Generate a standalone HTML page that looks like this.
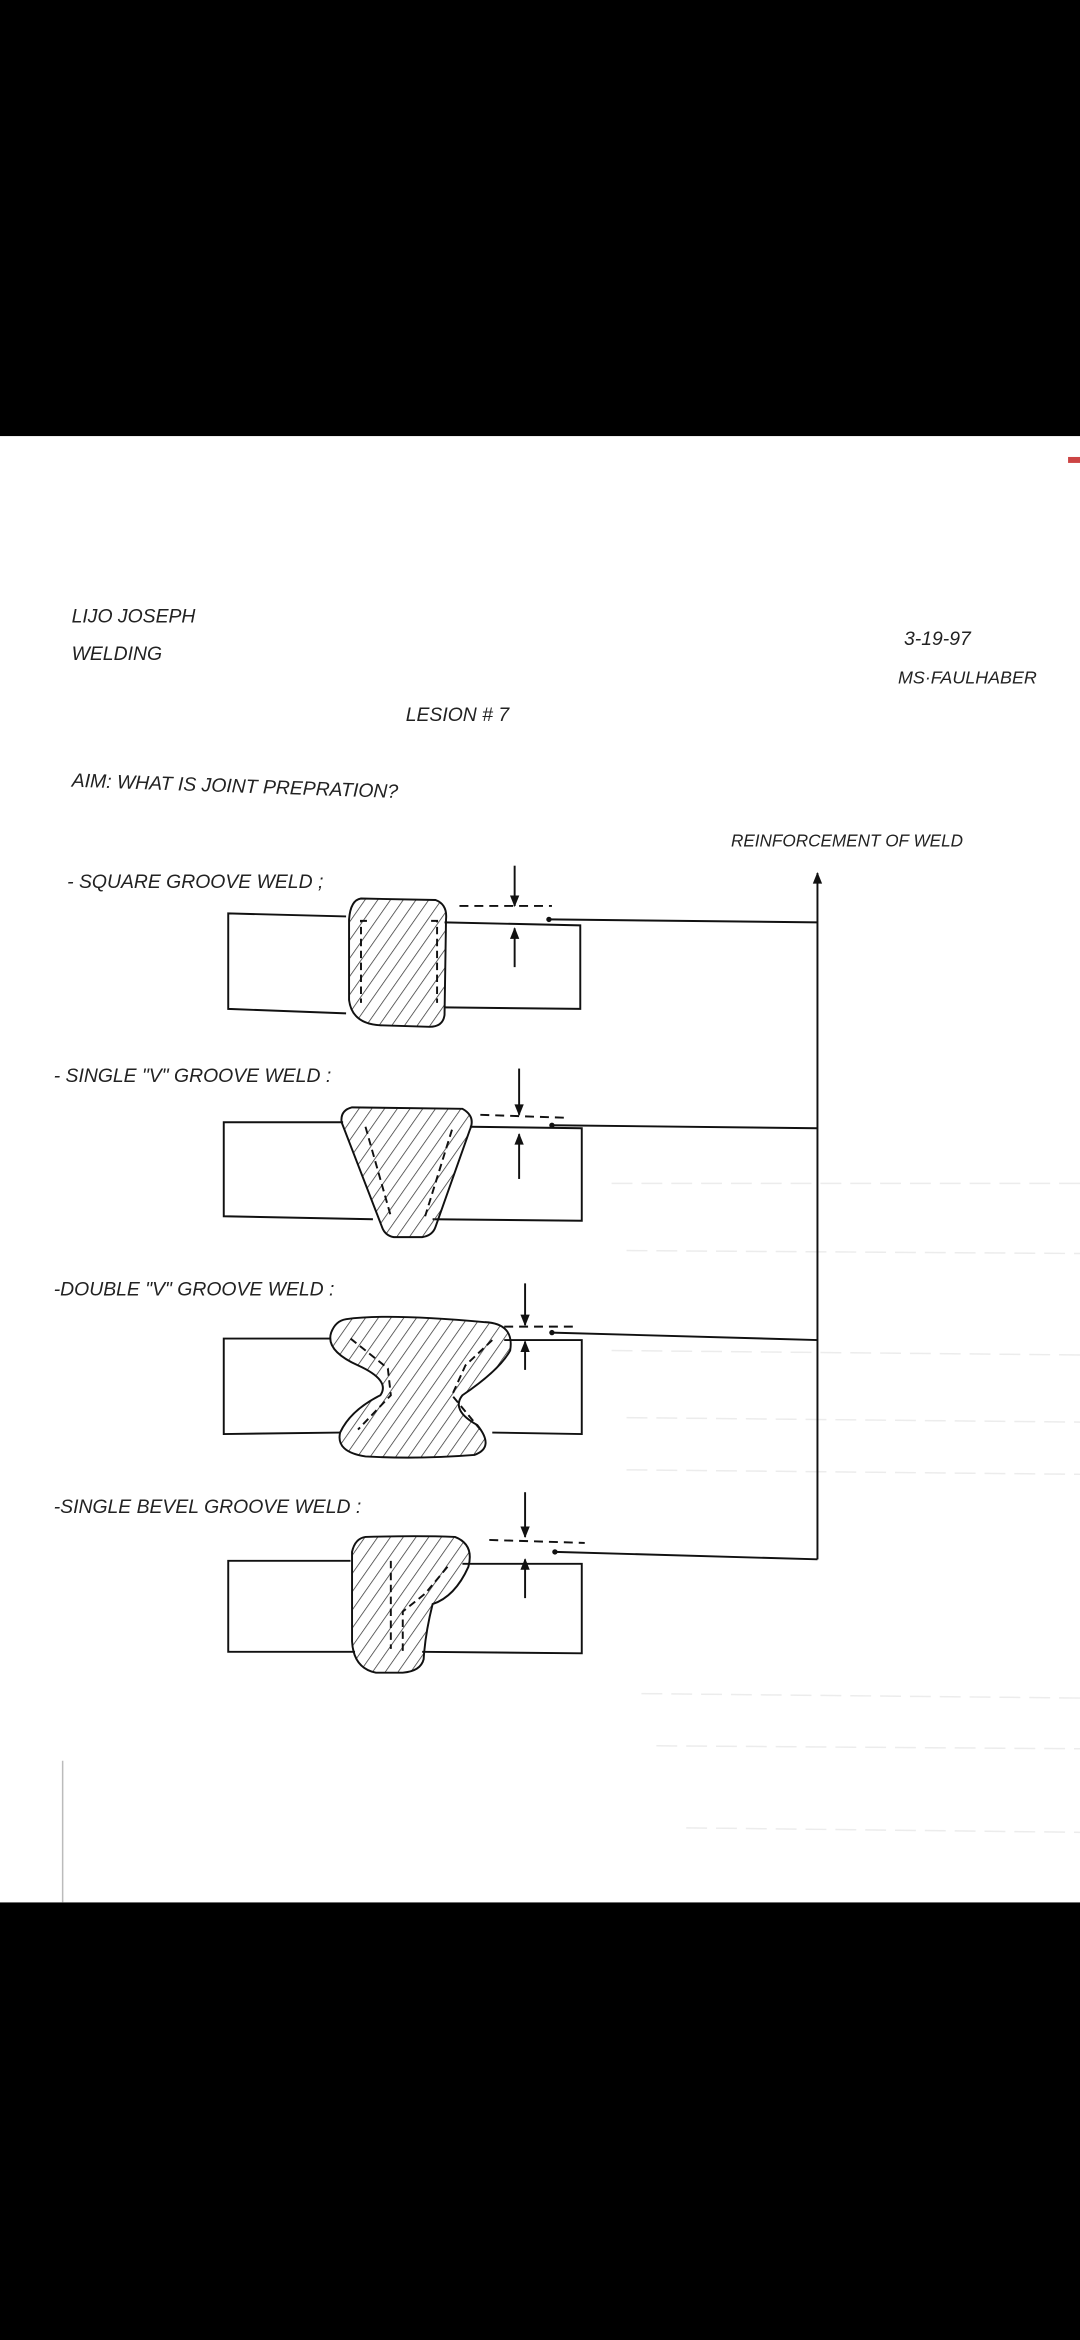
<!DOCTYPE html>
<html><head><meta charset="utf-8"><style>
html,body{margin:0;padding:0;background:#000;}
svg{display:block;}
text{font-family:"Liberation Sans",sans-serif;font-style:italic;fill:#222;}
</style></head><body>
<svg width="1080" height="2340" viewBox="0 0 724 1568" xmlns="http://www.w3.org/2000/svg">
<defs>
<pattern id="h" width="7" height="7" patternUnits="userSpaceOnUse" patternTransform="rotate(35)">
<line x1="0" y1="0" x2="0" y2="7" stroke="#333" stroke-width="1"/>
</pattern>
<marker id="a" viewBox="0 0 10 10" refX="9" refY="5" markerWidth="7" markerHeight="6" orient="auto"><path d="M0,1 L10,5 L0,9 z" fill="#111"/></marker>
</defs>
<rect x="0" y="0" width="724" height="1568" fill="#000"/>
<rect x="0" y="292" width="724" height="983" fill="#fff"/>
<rect x="716" y="306" width="8" height="4" fill="#c44"/>
<line x1="42" y1="1180" x2="42" y2="1275" stroke="#bbb" stroke-width="1"/>
<g stroke="#ececec" stroke-width="1" stroke-dasharray="14 6">
<line x1="410" y1="793" x2="724" y2="793"/><line x1="420" y1="838" x2="724" y2="840"/>
<line x1="410" y1="905" x2="724" y2="908"/><line x1="420" y1="950" x2="724" y2="953"/>
<line x1="420" y1="985" x2="724" y2="988"/><line x1="430" y1="1135" x2="724" y2="1138"/>
<line x1="440" y1="1170" x2="724" y2="1172"/><line x1="460" y1="1225" x2="724" y2="1228"/>
</g>
<g font-size="13">
<text x="48" y="417">LIJO JOSEPH</text>
<text x="48" y="442">WELDING</text>
<text x="606" y="432">3-19-97</text>
<text x="602" y="458" font-size="12">MS·FAULHABER</text>
<text x="272" y="483">LESION # 7</text>
<text x="48" y="527" transform="rotate(2 48 527)">AIM: WHAT IS JOINT PREPRATION?</text>
<text x="490" y="567" font-size="11.5">REINFORCEMENT OF WELD</text>
<text x="45" y="595">- SQUARE GROOVE WELD ;</text>
<text x="36" y="725">- SINGLE "V" GROOVE WELD :</text>
<text x="36" y="868">-DOUBLE "V" GROOVE WELD :</text>
<text x="36" y="1014">-SINGLE BEVEL GROOVE WELD :</text>
</g>
<g fill="none" stroke="#111" stroke-width="1.3">
<line x1="548" y1="1045" x2="548" y2="585" marker-end="url(#a)"/>
<!-- 1 -->
<path d="M232,614 L153,612 L153,676 L232,679 M298,618 L389,620 L389,676 L298,675"/>
<path d="M242,602 L292,603 Q300,606 299,616 L298,680 Q297,688 288,688 L255,687 Q236,686 234,670 L234,616 Q235,603 242,602 Z" fill="url(#h)"/>
<path d="M246,617 L242,617 L242,672 M289,617 L293,617 L293,672" stroke-dasharray="5 3"/>
<line x1="345" y1="580" x2="345" y2="607" marker-end="url(#a)"/>
<line x1="345" y1="648" x2="345" y2="622" marker-end="url(#a)"/>
<line x1="308" y1="607" x2="370" y2="607" stroke-dasharray="6 4"/>
<path d="M368,616 L548,618"/>
<!-- 2 -->
<path d="M230,752 L150,752 L150,815 L250,817 M315,755 L390,756 L390,818 L290,817"/>
<path d="M236,742 L310,743 Q319,748 315,757 L292,822 Q290,828 283,829 L264,829 Q258,828 256,822 L229,752 Q228,744 236,742 Z" fill="url(#h)"/>
<path d="M245,755 L262,815 M303,757 L285,815" stroke-dasharray="5 3"/>
<line x1="348" y1="716" x2="348" y2="747" marker-end="url(#a)"/>
<line x1="348" y1="790" x2="348" y2="760" marker-end="url(#a)"/>
<line x1="322" y1="747" x2="380" y2="749" stroke-dasharray="6 4"/>
<path d="M370,754 L548,756"/>
<!-- 3 -->
<path d="M222,897 L150,897 L150,961 L228,960 M338,898 L390,898 L390,961 L330,960"/>
<path d="M232,884 Q260,880 325,886 Q345,887 342,905 Q335,918 310,935 Q302,945 320,955 Q332,970 318,975 Q280,978 245,976 Q225,973 228,960 Q235,945 255,935 Q262,925 240,915 Q218,905 222,893 Q225,885 232,884 Z" fill="url(#h)"/>
<path d="M235,897 L260,917 L262,935 L240,958 M330,898 L312,915 L303,935 L322,958" stroke-dasharray="5 3"/>
<line x1="352" y1="860" x2="352" y2="888" marker-end="url(#a)"/>
<line x1="352" y1="918" x2="352" y2="899" marker-end="url(#a)"/>
<line x1="338" y1="889" x2="385" y2="889" stroke-dasharray="6 4"/>
<path d="M370,893 L548,898"/>
<!-- 4 -->
<path d="M235,1046 L153,1046 L153,1107 L238,1107 M310,1048 L390,1048 L390,1108 L283,1107"/>
<path d="M245,1030 Q280,1029 305,1030 Q318,1035 314,1050 Q305,1070 290,1075 Q285,1095 284,1112 Q282,1120 270,1121 L252,1121 Q237,1118 236,1100 L236,1040 Q238,1031 245,1030 Z" fill="url(#h)"/>
<path d="M262,1046 L262,1105 M300,1050 L285,1068 L270,1080 L270,1107" stroke-dasharray="5 3"/>
<line x1="352" y1="1000" x2="352" y2="1030" marker-end="url(#a)"/>
<line x1="352" y1="1071" x2="352" y2="1045" marker-end="url(#a)"/>
<line x1="328" y1="1032" x2="392" y2="1034" stroke-dasharray="6 4"/>
<path d="M372,1040 L548,1045"/>
</g>
<g fill="#111"><circle cx="368" cy="616" r="1.8"/><circle cx="370" cy="754" r="1.8"/><circle cx="370" cy="893" r="1.8"/><circle cx="372" cy="1040" r="1.8"/></g>
</svg>
</body></html>
